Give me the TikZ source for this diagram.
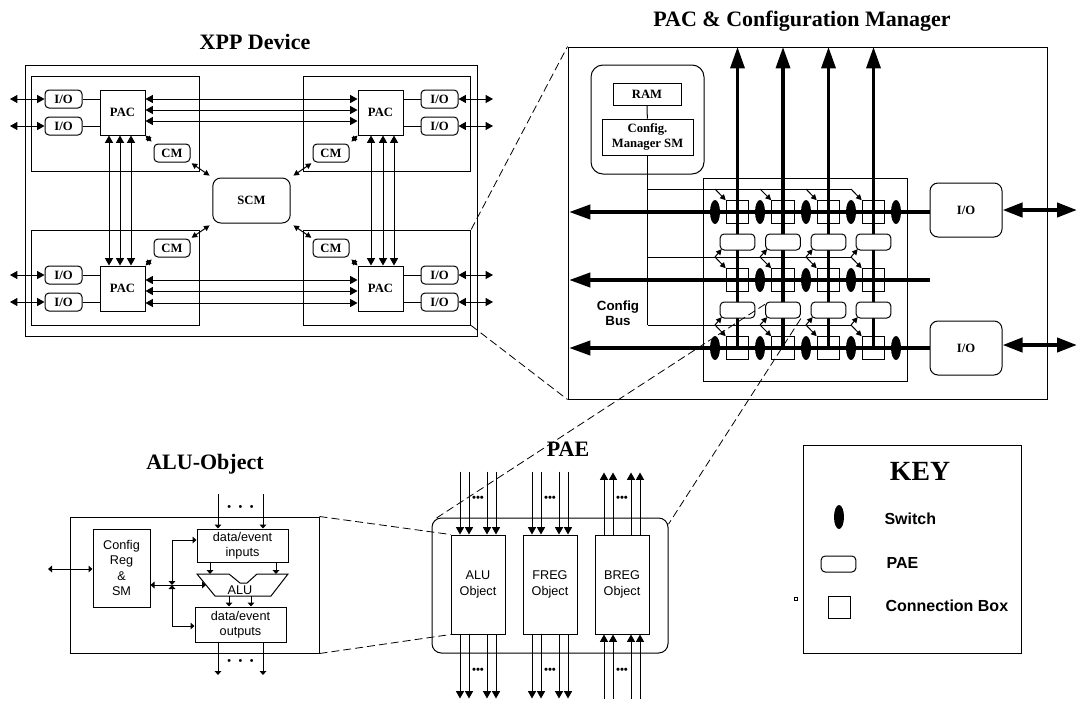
\documentclass[tikz,border=0pt]{standalone}
\usepackage{fontspec}
\setmainfont{Liberation Serif}
\newfontfamily\arialfont{Liberation Sans}
\usetikzlibrary{arrows.meta, shapes.geometric}
\begin{document}
\begin{tikzpicture}[x=0.75pt, y=-0.75pt, line width=0.75pt,
  ttl/.style={font=\fontsize{16.5}{18}\selectfont\bfseries},
  bold/.style={font=\fontsize{9.5}{11.25}\selectfont\bfseries, align=center},
  sans/.style={font=\arialfont\fontsize{9.5}{11.5}\selectfont, align=center},
  sansB/.style={font=\arialfont\bfseries\fontsize{10}{11.25}\selectfont, align=center},
  keylbl/.style={font=\arialfont\bfseries\fontsize{12}{14}\selectfont, anchor=west, inner sep=0pt},
  box/.style={draw, inner sep=0pt},
  rbox/.style={draw, rounded corners=3pt, inner sep=0pt, fill=white},
  sw/.style={ellipse, fill=black, minimum width=7.5pt, minimum height=18pt, inner sep=0pt},
  both/.style={{Triangle[length=5.5pt,width=6pt]}-{Triangle[length=5.5pt,width=6pt]}},
  tinyboth/.style={{Triangle[length=4.2pt,width=4.2pt]}-{Triangle[length=4.2pt,width=4.2pt]}},
  to/.style={-{Triangle[length=5.5pt,width=6pt]}},
  tiny/.style={-{Triangle[length=4.2pt,width=4.2pt]}},
  stub/.style={-{Triangle[length=3pt,width=5pt]}},
  stubboth/.style={{Triangle[length=3pt,width=5pt]}-{Triangle[length=3pt,width=5pt]}},
  fatup/.style={line width=2.5pt, -{Triangle[length=16pt,width=10.5pt]}},
  fatto/.style={line width=3pt, -{Triangle[length=16pt,width=10.5pt]}},
  fatboth/.style={line width=3pt, {Triangle[length=15pt,width=10.5pt]}-{Triangle[length=15pt,width=10.5pt]}},
  zoomline/.style={line width=0.6pt, dash pattern=on 6pt off 3pt}]
\useasboundingbox (0,0) rectangle (1077,700);
% XPP device
\node[ttl] (ttlXPP) at (255,42) {XPP Device};
\node[box, minimum width=339pt, minimum height=203.25pt] (boxXPP) at (251,200.5) {};
\foreach \n/\x/\y in {TL/115.5/123.5, TR/387/123.5, BL/115.5/277.5, BR/387/277.5}
  \node[box, minimum width=125.5pt, minimum height=71.25pt] (box\n) at (\x,\y) {};
\foreach \n/\x/\y in {TL/122.5/112.5, TR/380.5/112.5, BL/122.5/288.5, BR/380.5/288.5}
  \node[box, fill=white, minimum size=33.75pt, bold] (pac\n) at (\x,\y) {PAC};
\node[rbox, bold, minimum width=58pt, minimum height=33.75pt, rounded corners=6pt] (scm) at (251.5,200.5) {SCM};
\foreach \n/\x/\y/\ex/\p/\a in {a/63.5/99/10/TL/west, b/63.5/126/10/TL/west, c/439.5/99/493/TR/east, d/439.5/126/493/TR/east,
    e/63.5/275/10/BL/west, f/63.5/302/10/BL/west, g/439.5/275/493/BR/east, h/439.5/302/493/BR/east} {
  \node[rbox, bold, minimum width=27.75pt, minimum height=13.5pt] (io\n) at (\x,\y) {I/O};
  \coordinate (end\n) at (\ex,\y);
  \draw[both] (end\n) -- (io\n);
  \draw (io\n) -- (io\n -| pac\p.\a); }
\foreach \y in {99,110,121} \draw[both] (pacTL.east |- 0,\y) -- (pacTR.west |- 0,\y);
\foreach \y in {280,291,303} \draw[both] (pacBL.east |- 0,\y) -- (pacBR.west |- 0,\y);
\foreach \x in {109,120,131} \draw[both] (pacTL.south -| \x,0) -- (pacBL.north -| \x,0);
\foreach \x in {371,383,394} \draw[both] (pacTR.south -| \x,0) -- (pacBR.north -| \x,0);
\foreach \n/\x/\y/\pa/\ca/\sa in {TL/172/153/south east/north west/north west, TR/331/153/south west/north east/north east,
    BL/172/248/north east/south west/south west, BR/331/248/north west/south east/south east} {
  \node[rbox, bold, minimum width=27pt, minimum height=13.5pt] (cm\n) at (\x,\y) {CM};
  \draw[tinyboth, shorten >=2pt] (pac\n.\pa) -- (cm\n.\ca);
  \draw[tinyboth, shorten <=1pt, shorten >=2.5pt] (cm\n.\pa) -- (scm.\sa); }
% PAC and config manager
\node[ttl] (ttlPAC) at (802,21) {PAC \& Configuration Manager};
\node[box, minimum width=359.25pt, minimum height=264pt] (boxPAC) at (807.5,223) {};
\node[rbox, minimum width=84.75pt, minimum height=81.75pt, rounded corners=9pt] (cmgr) at (647.5,119.5) {};
\node[box, bold, minimum width=51pt, minimum height=16.5pt] (ram) at (647,94) {RAM};
\node[box, bold, minimum width=68.25pt, minimum height=27pt] (cfgsm) at (647.5,137) {Config.\\Manager SM};
\draw (ram) -- (cfgsm);
\node[box, minimum width=153pt, minimum height=152.25pt] (grid) at (805,279.5) {};
\node[rbox, bold, minimum width=54pt, minimum height=40.5pt, rounded corners=6pt] (ioA) at (966,210) {I/O};
\node[rbox, bold, minimum width=54pt, minimum height=40.5pt, rounded corners=6pt] (ioB) at (966,348) {I/O};
\node[sansB] (cfgbus) at (618,313.5) {Config\\Bus};
% config bus
\coordinate (cfgA) at (647.5,189); \coordinate (cfgB) at (647.5,257); \coordinate (cfgC) at (647.5,325);
\draw (cfgsm) -- (cfgC);
\foreach \i/\x in {1/737.5, 2/783, 3/828.5, 4/873.5} {
  \coordinate (busTop\i) at (\x,47);
  \node[box, minimum size=17pt] (cbA\i) at (\x,212) {};
  \node[box, minimum size=17pt] (cbB\i) at (\x,280) {};
  \node[box, minimum size=17pt] (cbC\i) at (\x,348) {};
  \draw[fatup] (cbC\i.center) -- (busTop\i); }
\foreach \i/\x in {1/737.5, 2/783, 3/828.5, 4/873.5} {
  \node[rbox, minimum width=26pt, minimum height=12pt] (paeA\i) at (\x,242) {};
  \node[rbox, minimum width=26pt, minimum height=12pt] (paeB\i) at (\x,310) {}; }
\coordinate (busL1) at (569,212); \coordinate (busL2) at (569,280); \coordinate (busL3) at (569,348);
\coordinate (busR2) at (930,280);
\draw[fatto] (ioA.west |- busL1) -- (busL1);
\draw[fatto] (busR2) -- (busL2);
\draw[fatto] (ioB.west |- busL3) -- (busL3);
\coordinate (ioAend) at (1077,210); \coordinate (ioBend) at (1077,345);
\draw[fatboth] (ioA.east) -- (ioAend);
\draw[fatboth] (ioB.east |- ioBend) -- (ioBend);
\foreach \x in {715,760,806,851,896} {
  \node[sw] at (\x,212) {};
  \node[sw] at (\x,348) {}; }
\foreach \x in {760,806,851} \node[sw] at (\x,280) {};
\draw (cfgA) -- (851,189);
\draw (cfgB) -- (851,257);
\draw (cfgC) -- (851,325);
\foreach \i/\x in {1/715, 2/760, 3/806, 4/851} {
  \draw[tiny] (\x,189) -- (cbA\i.north west);
  \draw[tiny] (\x,257) -- ([xshift=1.5pt,yshift=1pt]paeA\i.south west);
  \draw[tiny] (\x,257) -- (cbB\i.north west);
  \draw[tiny] (\x,325) -- ([xshift=1.5pt,yshift=1pt]paeB\i.south west);
  \draw[tiny] (\x,325) -- (cbC\i.north west); }
% ALU object
\node[ttl] (ttlALU) at (205,464) {ALU-Object};
\node[box, minimum width=186.75pt, minimum height=102pt] (boxALU) at (194.5,585) {};
\node[box, sans, minimum width=42.75pt, minimum height=58.5pt] (cfgreg) at (121.5,568) {Config\\Reg\\\&\\SM};
\node[box, sans, minimum width=68.25pt, minimum height=24.75pt] (dataIn) at (242.5,545.5) {data/event\\inputs};
\node[box, sans, minimum width=68.25pt, minimum height=26.25pt] (dataOut) at (240.5,624.5) {data/event\\outputs};
\draw (197,574) -- (229,574) -- (240,583) -- (247,583) -- (257,574) -- (288,574) -- (271,596) -- (215,596) -- cycle;
\node[sans, inner sep=0pt] (aluTxt) at (240,590) {ALU};
\coordinate (inA) at (218,494); \coordinate (inB) at (263,494); \coordinate (outA) at (218,675); \coordinate (outB) at (263,675);
\coordinate (cfgEnd) at (48,569); \coordinate (aluEdge) at (206,585); \coordinate (cross) at (172,585);
\coordinate (aluIa) at (210,574); \coordinate (aluIb) at (276,574); \coordinate (aluOa) at (229,596); \coordinate (aluOb) at (251,596);
\draw[stub] (inA) -- (dataIn.north -| inA);
\draw[stub] (inB) -- (dataIn.north -| inB);
\draw[stub] (dataOut.south -| outA) -- (outA);
\draw[stub] (dataOut.south -| outB) -- (outB);
\draw[stub] (dataIn.south -| aluIa) -- (aluIa);
\draw[stub] (dataIn.south -| aluIb) -- (aluIb);
\draw[stub] (aluOa) -- (dataOut.north -| aluOa);
\draw[stub] (aluOb) -- (dataOut.north -| aluOb);
\draw[stubboth] (cfgEnd) -- (cfgreg.west |- cfgEnd);
\draw[stubboth] (cfgreg.east |- cross) -- (aluEdge);
\draw[stubboth] (cross) |- (dataIn.west |- 0,540);
\draw[stubboth] (cross) |- (dataOut.west |- 0,626);
\node[font=\arialfont\fontsize{8}{8}\selectfont, inner sep=0pt] (dotsI) at (240.5,508) {•\hspace{5.7pt}•\hspace{5.7pt}•};
\node[font=\arialfont\fontsize{8}{8}\selectfont, inner sep=0pt] (dotsO) at (240.5,662) {•\hspace{5.7pt}•\hspace{5.7pt}•};
% PAE
\node[ttl] (ttlPAE) at (568,449) {PAE};
\node[rbox, minimum width=177pt, minimum height=101.25pt, rounded corners=7pt] (paeBig) at (550,585.5) {};
\foreach \n/\t/\x in {ALU/ALU/478, FREG/FREG/550, BREG/BREG/622} {
  \node[box, sans, fill=white, minimum width=40.5pt, minimum height=74.25pt] (obj\n) at (\x,584.5) {\t\\Object};
  \node[font=\arialfont\fontsize{8.5}{8.5}\selectfont, inner sep=0pt] (dotT\n) at (\x,499) {•••};
  \node[font=\arialfont\fontsize{8.5}{8.5}\selectfont, inner sep=0pt] (dotB\n) at (\x,671) {•••}; }
\foreach \n in {ALU,FREG} \foreach \o in {-13.5pt,-6.75pt,6.75pt,13.5pt} {
  \draw[to] ([xshift=\o,yshift=47.25pt]obj\n.north) -- ([xshift=\o]obj\n.north);
  \draw[to] ([xshift=\o]obj\n.south) -- ([xshift=\o,yshift=-48pt]obj\n.south); }
\foreach \o in {-13.5pt,-6.75pt,6.75pt,13.5pt} {
  \draw[to] ([xshift=\o]objBREG.north) -- ([xshift=\o,yshift=46.5pt]objBREG.north);
  \draw[to] ([xshift=\o,yshift=-48pt]objBREG.south) -- ([xshift=\o]objBREG.south); }
% key
\node[box, minimum width=163.5pt, minimum height=156pt] (boxKEY) at (912,549) {};
\node[font=\fontsize{20.8}{22}\selectfont\bfseries] (ttlKEY) at (920,471) {KEY};
\node[sw] (keySw) at (839,517) {};
\node[keylbl] (lblSw) at (884,519) {Switch};
\node[rbox, minimum width=26pt, minimum height=12pt] (keyPae) at (838.5,564) {};
\node[keylbl] (lblPae) at (886,563) {PAE};
\node[box, minimum size=17pt] (keyBox) at (839.5,607.5) {};
\node[keylbl] (lblBox) at (885,606) {Connection Box};
\node[box, minimum size=2.5pt, line width=0.5pt] (dotKey) at (796,599) {};
% zoom lines
\draw[zoomline] (boxBR.north east) -- (boxPAC.north west);
\draw[zoomline] (boxBR.south east) -- (boxPAC.south west);
\draw[zoomline] ([yshift=-2pt]paeB2.north west) -- ([xshift=2pt,yshift=-1.5pt]paeBig.north west);
\draw[zoomline] (paeB2.south east) -- ([yshift=-5pt]paeBig.north east);
\draw[zoomline] (boxALU.north east) -- (objALU.north west);
\draw[zoomline] (boxALU.south east) -- (objALU.south west);
\end{tikzpicture}
\end{document}
